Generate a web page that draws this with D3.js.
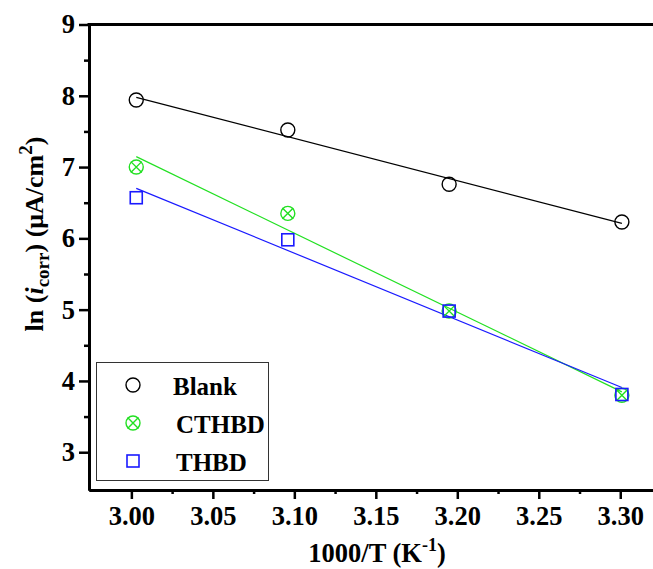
<!DOCTYPE html>
<html>
<head>
<meta charset="utf-8">
<script src="https://cdn.jsdelivr.net/npm/d3@7"></script>
<style>
  html, body { margin: 0; padding: 0; background: #fff; }
  svg { display: block; }
  text { font-family: "Liberation Serif", "Times New Roman", serif; font-weight: bold; fill: #000; }
</style>
</head>
<body>
<svg id="chart" width="653" height="569"></svg>
<script>
// Arrhenius data: inverse temperature (1000/T) and ln of corrosion current density
const invT = [3.003, 3.096, 3.195, 3.301];
const blank = [7.94, 7.52, 6.76, 6.23];
const cthbd = [7.00, 6.35, 4.98, 3.80];
const thbd  = [6.57, 5.98, 4.98, 3.81];

const xTicks = [3.00, 3.05, 3.10, 3.15, 3.20, 3.25, 3.30];
const xMinor = [3.025, 3.075, 3.125, 3.175, 3.225, 3.275];
const yTicks = [3, 4, 5, 6, 7, 8, 9];
const yMinor = [3.5, 4.5, 5.5, 6.5, 7.5, 8.5];

const seriesNames = ["Blank", "CTHBD", "THBD"];
const seriesValues = [blank, cthbd, thbd];
const seriesColors = ["#000000", "#22e022", "#1a1aff"];
const seriesSymbols = ["circle", "xcircle", "square"];

const svg = d3.select("#chart");
const x = d3.scaleLinear().domain([2.974, 3.325]).range([89, 661]);
const y = d3.scaleLinear().domain([2.47, 9]).range([490, 24.5]);

// least-squares fit line for each series
function fit(xs, ys) {
  const mx = d3.mean(xs), my = d3.mean(ys);
  let sxy = 0, sxx = 0;
  xs.forEach((v, i) => { sxy += (v - mx) * (ys[i] - my); sxx += (v - mx) * (v - mx); });
  const b = sxy / sxx, a = my - b * mx;
  return t => a + b * t;
}

// axes
const fontTick = 26.5;
const gx = svg.append("g").attr("transform", `translate(0,${y.range()[0]})`)
  .call(d3.axisBottom(x).tickValues(xTicks).tickFormat(d3.format(".2f")).tickSize(9).tickSizeOuter(0));
const gxm = svg.append("g").attr("transform", `translate(0,${y.range()[0]})`)
  .call(d3.axisBottom(x).tickValues(xMinor).tickFormat("").tickSize(4).tickSizeOuter(0));
const gy = svg.append("g").attr("transform", `translate(${x.range()[0]},0)`)
  .call(d3.axisLeft(y).tickValues(yTicks).tickFormat(d3.format("d")).tickSize(10).tickSizeOuter(0));
const gym = svg.append("g").attr("transform", `translate(${x.range()[0]},0)`)
  .call(d3.axisLeft(y).tickValues(yMinor).tickFormat("").tickSize(5).tickSizeOuter(0));

[gx, gxm, gy, gym].forEach(g => {
  g.select(".domain").attr("stroke", "#000").attr("stroke-width", 3);
  g.selectAll(".tick line").attr("stroke", "#000").attr("stroke-width", 2.5);
  g.selectAll("text").attr("font-size", fontTick).attr("font-family", null).attr("fill", "#000");
});
gx.selectAll(".tick text").attr("dy", null).attr("y", 35);
gy.selectAll(".tick text").attr("dy", "0.32em").attr("x", -14);

// top frame line
svg.append("line")
  .attr("x1", x.range()[0] - 1.5).attr("x2", x.range()[1])
  .attr("y1", y.range()[1]).attr("y2", y.range()[1])
  .attr("stroke", "#000").attr("stroke-width", 3);

// fit lines
seriesValues.forEach((vals, i) => {
  const f = fit(invT, vals);
  const x0 = invT[0], x1 = invT[invT.length - 1];
  svg.append("line")
    .attr("x1", x(x0)).attr("y1", y(f(x0)))
    .attr("x2", x(x1)).attr("y2", y(f(x1)))
    .attr("stroke", seriesColors[i]).attr("stroke-width", 1.2);
});

// symbol drawing
function drawSymbol(g, kind, cx, cy, color) {
  if (kind === "circle" || kind === "xcircle") {
    g.append("circle").attr("cx", cx).attr("cy", cy).attr("r", 7)
      .attr("fill", "none").attr("stroke", color).attr("stroke-width", 1.4);
    if (kind === "xcircle") {
      const d = 7 * Math.SQRT1_2 + 0.5;
      g.append("path")
        .attr("d", `M${cx - d},${cy - d}L${cx + d},${cy + d}M${cx - d},${cy + d}L${cx + d},${cy - d}`)
        .attr("stroke", color).attr("stroke-width", 1.4).attr("fill", "none");
    }
  } else {
    g.append("rect").attr("x", cx - 6).attr("y", cy - 6).attr("width", 12).attr("height", 12)
      .attr("fill", "none").attr("stroke", color).attr("stroke-width", 1.6);
  }
}

// data markers
seriesValues.forEach((vals, i) => {
  const g = svg.append("g");
  vals.forEach((v, j) => drawSymbol(g, seriesSymbols[i], x(invT[j]), y(v), seriesColors[i]));
});

// legend
const leg = svg.append("g");
leg.append("rect").attr("x", 96.5).attr("y", 362.5).attr("width", 172).attr("height", 118)
  .attr("fill", "#fff").attr("stroke", "#333").attr("stroke-width", 1);
const legY = [385, 423, 461];
const legTextX = [173, 176, 176];
seriesNames.forEach((name, i) => {
  drawSymbol(leg, seriesSymbols[i], 133, legY[i], seriesColors[i]);
  leg.append("text").attr("x", legTextX[i]).attr("y", legY[i] + 9.5)
    .attr("font-size", 25).text(name);
});

// x axis title
const xt = svg.append("text").attr("x", 377).attr("y", 562).attr("text-anchor", "middle").attr("font-size", 26.5);
xt.append("tspan").text("1000/T (K");
xt.append("tspan").attr("font-size", 18).attr("dy", -11).text("-1");
xt.append("tspan").attr("dy", 11).text(")");

// y axis title
const yt = svg.append("text")
  .attr("transform", "translate(43,234) rotate(-90)")
  .attr("text-anchor", "middle").attr("font-size", 26);
yt.append("tspan").text("ln (");
yt.append("tspan").attr("font-style", "italic").text("i");
yt.append("tspan").attr("font-size", 19).attr("dy", 6).text("corr");
yt.append("tspan").attr("dy", -6).text(") (μA/cm");
yt.append("tspan").attr("font-size", 19).attr("dy", -11).text("2");
yt.append("tspan").attr("dy", 11).text(")");
</script>
</body>
</html>
